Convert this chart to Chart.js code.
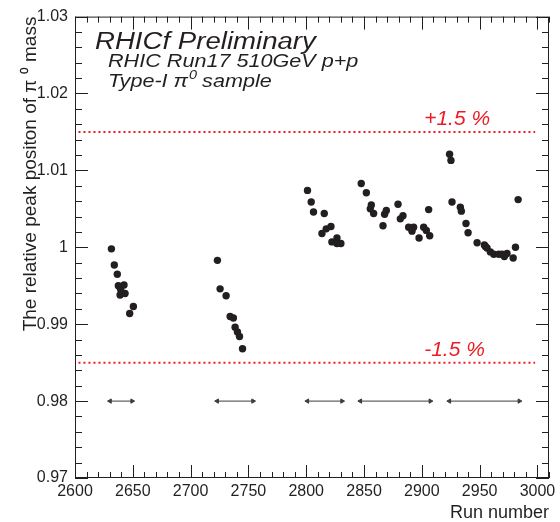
<!DOCTYPE html>
<html>
<head>
<meta charset="utf-8">
<script src="https://cdn.jsdelivr.net/npm/chart.js@4.4.0/dist/chart.umd.min.js"></script>
<style>
html, body { margin: 0; padding: 0; background: #fff; }
#wrap { width: 560px; height: 522px; }
</style>
</head>
<body>
<div id="wrap"><canvas id="peak-chart" width="560" height="522"></canvas></div>
<script>
// runs and relative pi0 peak positions
var runNumbers = [
    2631.5, 2634, 2636.6, 2637.5, 2642.4, 2639.5, 2639, 2643.3, 2647.3, 2650.5,
    2723.2, 2725.5, 2730.7, 2734.2, 2737, 2738.5, 2740.5, 2742.3, 2744.9,
    2801.1, 2804.3, 2806.3, 2815.6, 2813.6, 2817.3, 2821.4, 2822.2, 2826.6, 2826.6, 2830,
    2847.6, 2852, 2855.4, 2856.3, 2858.3, 2866.4, 2867.8, 2869.3, 2879.4, 2881.4,
    2883.7, 2888.6, 2891.5, 2892.9, 2897.6, 2901.6, 2903.9, 2905.9, 2906.8,
    2924, 2925.2, 2926.1, 2933.3, 2934.2, 2938.2, 2940, 2947.8, 2954.1, 2955,
    2956.4, 2959.3, 2962.2, 2966.5, 2969.4, 2971.4, 2973.7, 2979, 2981, 2983.3
];
var peakPositions = [
    0.9998, 0.9977, 0.9965, 0.9950, 0.9951, 0.9945, 0.9938, 0.9940, 0.9914, 0.9923,
    0.9983, 0.9946, 0.9937, 0.9910, 0.9908, 0.9896, 0.9890, 0.9884, 0.9868,
    1.0074, 1.0059, 1.0046, 1.0044, 1.0018, 1.0024, 1.0027, 1.0007, 1.0012, 1.0005, 1.0005,
    1.0083, 1.0071, 1.0050, 1.0055, 1.0044, 1.0028, 1.0043, 1.0048, 1.0056, 1.0037,
    1.0041, 1.0026, 1.0021, 1.0026, 1.0012, 1.0026, 1.0022, 1.0049, 1.0015,
    1.0121, 1.0113, 1.0059, 1.0052, 1.0047, 1.0031, 1.0019, 1.0006, 1.0003, 1.0001,
    0.9999, 0.9994, 0.9991, 0.9991, 0.9991, 0.9988, 0.9992, 0.9986, 1.0000, 1.0062
];

var limitValues = [1.015, 0.985];
var limitLabels = ['+1.5 %', '-1.5 %'];
var limitRange = [2603, 2998];

// run periods shown with arrows
var periodStarts = [2630.3, 2723, 2801, 2846.8, 2923.8];
var periodEnds = [2649.4, 2754, 2831, 2907.4, 2984.4];
var periodLevel = 0.98;

var xTicks = [2600, 2650, 2700, 2750, 2800, 2850, 2900, 2950, 3000];
var yTicks = [0.97, 0.98, 0.99, 1, 1.01, 1.02, 1.03];
var yTickLabels = ['0.97', '0.98', '0.99', '1', '1.01', '1.02', '1.03'];

var ink = '#231f20';
var red = '#ed1c24';
var fontFamily = '"Liberation Sans", Arial, sans-serif';

// text in the original is a bit wider than Liberation Sans, stretch it
function wideText(ctx, text, x, y, size, stretch) {
    ctx.save();
    ctx.translate(x, y);
    ctx.scale(stretch, 1);
    ctx.font = 'italic ' + size + 'px ' + fontFamily;
    ctx.fillText(text, 0, 0);
    var w = ctx.measureText(text).width * stretch;
    ctx.restore();
    return w;
}

var frameTicks = {
    id: 'frameTicks',
    afterDraw: function(chart) {
        var ctx = chart.ctx, a = chart.chartArea;
        var xs = chart.scales.x, ys = chart.scales.y;
        ctx.save();
        ctx.strokeStyle = ink;
        ctx.lineWidth = 1;
        ctx.strokeRect(a.left + 0.5, a.top + 0.5, a.right - a.left - 1, a.bottom - a.top - 1);
        ctx.beginPath();
        for (var v = xs.min; v <= xs.max; v += 10) {
            var px = Math.round(xs.getPixelForValue(v)) + 0.5;
            var len = (v % 50 === 0) ? 13 : 6;
            ctx.moveTo(px, a.bottom); ctx.lineTo(px, a.bottom - len);
            ctx.moveTo(px, a.top); ctx.lineTo(px, a.top + len);
        }
        for (var k = 0; k <= 30; k++) {
            var py = Math.round(ys.getPixelForValue(ys.min + k * 0.002)) + 0.5;
            var ylen = (k % 5 === 0) ? 13 : 7;
            ctx.moveTo(a.left, py); ctx.lineTo(a.left + ylen, py);
            ctx.moveTo(a.right, py); ctx.lineTo(a.right - ylen, py);
        }
        ctx.stroke();

        // labels on the plot
        ctx.fillStyle = ink;
        ctx.textAlign = 'left';
        ctx.textBaseline = 'alphabetic';
        wideText(ctx, 'RHICf Preliminary', 95, 49, 23, 1.2);
        wideText(ctx, 'RHIC Run17 510GeV p+p', 108, 67, 18, 1.2);
        var w = wideText(ctx, 'Type-I \u03c0', 108, 87, 18, 1.2);
        wideText(ctx, '0', 108 + w + 1, 79, 12, 1.2);
        wideText(ctx, 'sample', 108 + w + 14, 87, 18, 1.2);

        ctx.fillStyle = red;
        for (var i = 0; i < limitValues.length; i++) {
            wideText(ctx, limitLabels[i], xs.getPixelForValue(2902), ys.getPixelForValue(limitValues[i]) - 7, 20, 1.05);
        }
        ctx.restore();
    }
};

var datasets = [{
    type: 'scatter',
    data: runNumbers.map(function(r, i) { return {x: r, y: peakPositions[i]}; }),
    backgroundColor: ink,
    borderWidth: 0,
    pointRadius: 3.7
}];

limitValues.forEach(function(v) {
    datasets.push({
        type: 'line',
        data: [{x: limitRange[0], y: v}, {x: limitRange[1], y: v}],
        borderColor: red,
        borderWidth: 2,
        borderDash: [2, 3],
        pointRadius: 0,
        fill: false
    });
});

periodStarts.forEach(function(s, i) {
    datasets.push({
        type: 'line',
        data: [{x: s, y: periodLevel}, {x: periodEnds[i], y: periodLevel}],
        borderColor: '#3c3c3c',
        borderWidth: 1,
        pointStyle: 'triangle',
        pointRotation: [-90, 90],
        pointRadius: 2.5,
        pointBackgroundColor: '#3c3c3c',
        pointBorderColor: '#3c3c3c',
        pointBorderWidth: 1,
        fill: false
    });
});

new Chart(document.getElementById('peak-chart'), {
    type: 'scatter',
    data: { datasets: datasets },
    options: {
        responsive: false,
        animation: false,
        devicePixelRatio: 1,
        layout: { padding: { top: 10, right: 11, left: 0, bottom: 0 } },
        plugins: { legend: { display: false }, tooltip: { enabled: false } },
        scales: {
            x: {
                type: 'linear',
                position: 'bottom',
                min: 2600,
                max: 3010,
                afterFit: function(s) { s.height = 44; },
                afterBuildTicks: function(s) { s.ticks = xTicks.map(function(v) { return {value: v}; }); },
                grid: { display: false, drawTicks: false },
                border: { display: false },
                ticks: {
                    color: ink,
                    padding: 4,
                    maxRotation: 0,
                    autoSkip: false,
                    font: { family: fontFamily, size: 16 },
                    callback: function(v) { return String(v); }
                },
                title: {
                    display: true,
                    text: 'Run number',
                    align: 'end',
                    color: ink,
                    padding: 0,
                    font: { family: fontFamily, size: 18, lineHeight: 1 }
                }
            },
            y: {
                type: 'linear',
                min: 0.97,
                max: 1.03,
                afterFit: function(s) { s.width = 75; },
                afterBuildTicks: function(s) { s.ticks = yTicks.map(function(v) { return {value: v}; }); },
                grid: { display: false, drawTicks: false },
                border: { display: false },
                ticks: {
                    color: ink,
                    padding: 7,
                    autoSkip: false,
                    font: { family: fontFamily, size: 16 },
                    callback: function(v, i) { return yTickLabels[i]; }
                },
                title: {
                    display: true,
                    text: 'The relative peak positon of \u03c0 \u2070 mass',
                    align: 'end',
                    color: ink,
                    padding: { top: 21, bottom: 0 },
                    font: { family: fontFamily, size: 19, lineHeight: 1 }
                }
            }
        }
    },
    plugins: [frameTicks]
});
</script>
</body>
</html>
